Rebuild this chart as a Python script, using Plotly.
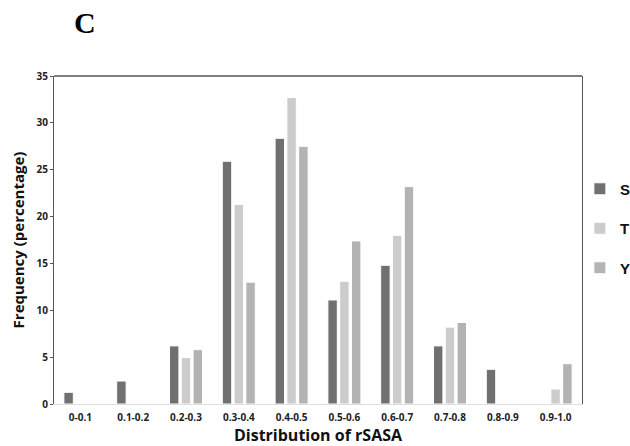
import plotly.graph_objects as go

categories = ["0-0.1", "0.1-0.2", "0.2-0.3", "0.3-0.4", "0.4-0.5",
              "0.5-0.6", "0.6-0.7", "0.7-0.8", "0.8-0.9", "0.9-1.0"]
s_values = [1.25, 2.45, 6.2, 25.9, 28.35, 11.1, 14.8, 6.2, 3.7, 0]
t_values = [0, 0, 4.95, 21.3, 32.7, 13.1, 18.0, 8.2, 0, 1.6]
y_values = [0, 0, 5.8, 13.0, 27.5, 17.4, 23.2, 8.7, 0, 4.3]

series = [("S", s_values, "#707070"), ("T", t_values, "#cccccc"), ("Y", y_values, "#b3b3b3")]

FONT = "Open Sans"

fig = go.Figure()
for name, vals, color in series:
    fig.add_trace(go.Bar(
        x=categories, y=vals, name=f"<b>{name}</b>", legendgroup=name,
        marker=dict(color=color, line=dict(color="white", width=1)),
    ))

fig.update_layout(
    width=630, height=446,
    margin=dict(l=54, r=48, t=76, b=42, autoexpand=False),
    paper_bgcolor="white", plot_bgcolor="white",
    barmode="group", bargap=0.33, bargroupgap=0.2,
    font=dict(family=FONT, color="#000000"),
    showlegend=True,
    legend=dict(x=0.996, xanchor="left", y=0.535, yanchor="middle",
                tracegroupgap=17, font=dict(family="Liberation Sans", size=15, color="#111"),
                itemwidth=30, bgcolor="rgba(0,0,0,0)"),
    xaxis=dict(
        showline=True, linecolor="#dddddd", linewidth=1,
        tickfont=dict(family=FONT, size=10, color="#222"),
        ticks="", showgrid=False, ticklabelstandoff=4,
        title=dict(text="<b>Distribution of rSASA</b>", font=dict(family=FONT, size=16, color="#111"), standoff=7),
    ),
    yaxis=dict(
        range=[0, 35], dtick=5, showgrid=False,
        showline=True, linecolor="#555555", linewidth=1, mirror=True,
        ticks="outside", ticklen=3, tickcolor="#555555",
        tickfont=dict(family=FONT, size=10, color="#222"),
        title=dict(text="<b>Frequency (percentage)</b>", font=dict(family=FONT, size=15, color="#111"), standoff=8),
        zeroline=False,
    ),
    shapes=[dict(type="line", xref="paper", yref="paper", x0=0, x1=1, y0=1, y1=1,
                 line=dict(color="#555555", width=1.5))],
    annotations=[dict(text="<b>C</b>", xref="paper", yref="paper", x=0.059, y=1.0,
                      yshift=54, xanchor="center", yanchor="middle", showarrow=False,
                      font=dict(family="Liberation Serif", size=30, color="#000"))],
)
fig.update_xaxes(tickprefix="<b>", ticksuffix="</b>")
fig.update_yaxes(tickprefix="<b>", ticksuffix="</b>")

fig.write_html("out.html")
